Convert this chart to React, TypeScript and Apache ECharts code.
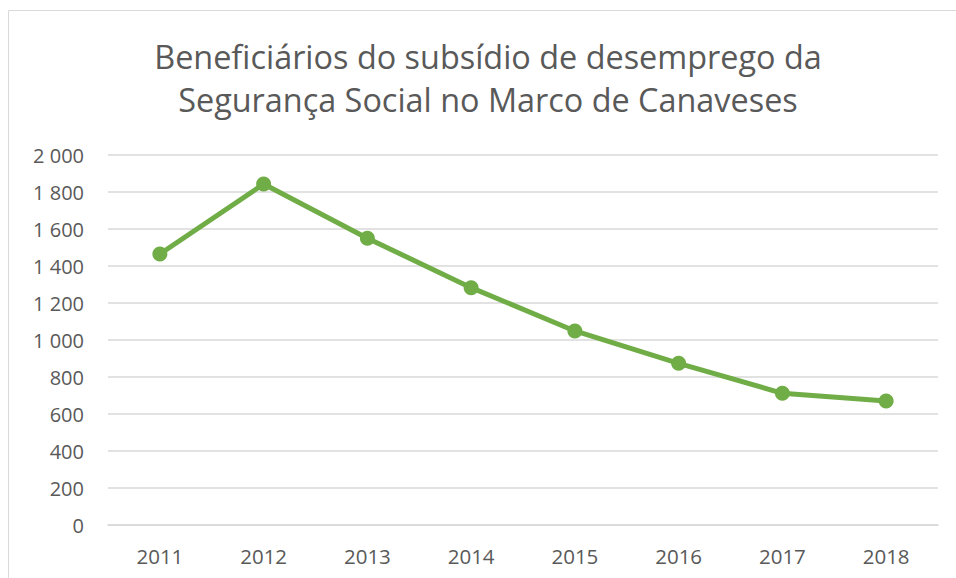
import React, { useEffect, useRef } from "react";
import * as echarts from "echarts";

const categories = ["2011", "2012", "2013", "2014", "2015", "2016", "2017", "2018"];
const beneficiarios = [1465, 1843, 1550, 1283, 1049, 874, 712, 670];
const titleLines = ["Beneficiários do subsídio de desemprego da", "Segurança Social no Marco de Canaveses"];

const TEXT = "#595959";
const GRID = "#d9d9d9";
const GREEN = "#70AD47";
const FONT = "'Open Sans', 'Noto Sans', sans-serif";

function fmt(v: number): string {
  const s = String(Math.round(v));
  return s.replace(/\B(?=(\d{3})+(?!\d))/g, " ");
}

export default function App() {
  const ref = useRef<HTMLDivElement>(null);
  useEffect(() => {
    if (!ref.current) return;
    const chart = echarts.init(ref.current, undefined, { renderer: "svg" });
    chart.setOption({
      animation: false,
      backgroundColor: "#ffffff",
      title: {
        text: titleLines.join("\n"),
        left: 488,
        top: 34,
        padding: 0,
        textAlign: "center",
        textStyle: {
          color: TEXT,
          fontFamily: FONT,
          fontSize: 32.4,
          fontWeight: "normal",
          lineHeight: 43,
        },
      },
      graphic: [
        {
          type: "rect",
          shape: { x: 8.5, y: 10.5, width: 1000, height: 700 },
          style: { fill: "none", stroke: GRID, lineWidth: 1 },
          silent: true,
        },
      ],
      grid: { left: 108, right: 18, top: 155, bottom: 53 },
      xAxis: {
        type: "category",
        data: categories,
        boundaryGap: true,
        axisLine: { show: true, lineStyle: { color: GRID, width: 1.5 } },
        axisTick: { show: false },
        axisLabel: { color: TEXT, fontFamily: FONT, fontSize: 20.5, margin: 20 },
      },
      yAxis: {
        type: "value",
        min: 0,
        max: 2000,
        interval: 200,
        axisLine: { show: false },
        axisTick: { show: false },
        splitLine: { lineStyle: { color: GRID, width: 1.5 } },
        axisLabel: {
          color: TEXT,
          fontFamily: FONT,
          fontSize: 20,
          margin: 24,
          formatter: (v: number) => fmt(v),
        },
      },
      series: [
        {
          type: "line",
          data: beneficiarios,
          symbol: "circle",
          symbolSize: 15,
          lineStyle: { color: GREEN, width: 5 },
          itemStyle: { color: GREEN },
        },
      ],
    });
    return () => chart.dispose();
  }, []);
  return (
    <div
      ref={ref}
      style={{ position: "fixed", left: 0, top: 0, width: 956, height: 578 }}
    />
  );
}
